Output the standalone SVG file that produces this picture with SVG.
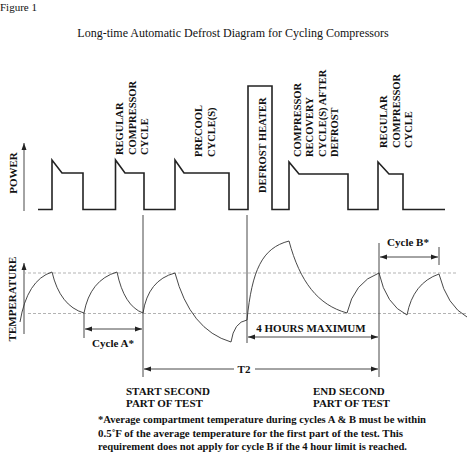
<svg xmlns="http://www.w3.org/2000/svg" width="467" height="453" viewBox="0 0 467 453">
<style>
text{font-family:"Liberation Serif","Times New Roman",serif;fill:#111}
.b{font-weight:bold;font-size:11px}
.r{font-weight:bold;font-size:10.5px}
.line{fill:none;stroke:#222;stroke-width:1.6}
.thin{fill:none;stroke:#333;stroke-width:0.9}
.dash{fill:none;stroke:#aaa;stroke-width:0.9;stroke-dasharray:3,2}
.ar{fill:none;stroke:#333;stroke-width:0.9;marker-end:url(#ah)}
</style>
<defs>
<marker id="ah" markerWidth="8" markerHeight="6" refX="7" refY="3" orient="auto" markerUnits="userSpaceOnUse">
<path d="M0,0.5 L7,3 L0,5.5 Z" fill="#222"/>
</marker>
</defs>
<rect width="467" height="453" fill="#fff"/>
<text x="0" y="11" font-size="11">Figure 1</text>
<text x="233" y="37" font-size="12" text-anchor="middle">Long-time Automatic Defrost Diagram for Cycling Compressors</text>

<g id="power-axis">
<path class="ar" d="M24,211 L24,143"/>
<text class="b" transform="translate(17,173) rotate(-90)" text-anchor="middle">POWER</text>
</g>
<g id="power-trace">
<path class="line" d="M38,209.5 H52 V160 L62,173 H83 V209.5 H115.5 V160 L125,173 H144 V209.5 H175 V160 L184,173 H229 V209.5 H248 V86 H272 V209.5 H289 V162 L299,174 H348 V209.5 H378 V162 L389,174 H403 V209.5 H445"/>
</g>
<g id="label-regular1">
<text class="r" transform="translate(123,155) rotate(-90)"><tspan x="0" y="0">REGULAR</tspan><tspan x="0" y="12.5">COMPRESSOR</tspan><tspan x="0" y="25">CYCLE</tspan></text>
</g>
<g id="label-precool">
<text class="r" transform="translate(202,157) rotate(-90)"><tspan x="0" y="0">PRECOOL</tspan><tspan x="0" y="12.5">CYCLE(S)</tspan></text>
</g>
<g id="label-defrost">
<text class="r" transform="translate(266,193) rotate(-90)">DEFROST HEATER</text>
</g>
<g id="label-recovery">
<text class="r" transform="translate(301,157) rotate(-90)"><tspan x="0" y="0">COMPRESSOR</tspan><tspan x="0" y="12.3">RECOVERY</tspan><tspan x="0" y="24.6">CYCLE(S) AFTER</tspan><tspan x="0" y="36.9">DEFROST</tspan></text>
</g>
<g id="label-regular2">
<text class="r" transform="translate(387,148) rotate(-90)"><tspan x="0" y="0">REGULAR</tspan><tspan x="0" y="12.5">COMPRESSOR</tspan><tspan x="0" y="25">CYCLE</tspan></text>
</g>

<g id="temp-axis">
<path class="ar" d="M24,334 L24,263"/>
<text class="b" transform="translate(16,299) rotate(-90)" text-anchor="middle" font-size="12">TEMPERATURE</text>
</g>
<g id="guides">
<path class="dash" d="M23,273 H457"/>
<path class="dash" d="M28,313.5 H467"/>
</g>
<g id="temp-trace">
<path class="thin" d="M20,322 Q27,280 52,272 Q60,306 84,313 Q90,280 117,272 Q124,306 143,313 Q148,280 175,273 Q190,330 231,342 Q234,322 247,320 C252,270 262,248 289,241 C300,282 318,305 347,313 Q354,282 379,273 Q386,305 407,315 Q413,283 439,274 Q447,306 467,317"/>
</g>

<g id="connectors">
<path class="thin" d="M143,215 V377"/>
<path class="thin" d="M247,215 V343"/>
<path class="thin" d="M379,243 V377"/>
<path class="thin" d="M84,313 V338"/>
<path class="thin" d="M439,247 V265"/>
<path class="ar" d="M113,329 H85"/>
<path class="ar" d="M113,329 H142"/>
<path class="ar" d="M409,257 H380"/>
<path class="ar" d="M409,257 H438"/>
<path class="ar" d="M313,337 H248"/>
<path class="ar" d="M313,337 H378"/>
<path class="ar" d="M234,369 H144"/>
<path class="ar" d="M255,369 H378"/>
</g>
<g id="dim-labels">
<text class="b" x="113" y="347" text-anchor="middle">Cycle A*</text>
<text class="b" x="408" y="246" text-anchor="middle">Cycle B*</text>
<text class="b" x="311" y="332" text-anchor="middle">4 HOURS MAXIMUM</text>
<text class="b" x="244" y="373" text-anchor="middle">T2</text>
</g>
<g id="bottom-labels">
<text class="b" x="126" y="395">START SECOND</text>
<text class="b" x="126" y="407">PART OF TEST</text>
<text class="b" x="313" y="395">END SECOND</text>
<text class="b" x="313" y="407">PART OF TEST</text>
<text class="b" x="98" y="423" textLength="328" lengthAdjust="spacingAndGlyphs">*Average compartment temperature during cycles A &amp; B must be within</text>
<text class="b" x="98" y="437" textLength="305" lengthAdjust="spacingAndGlyphs">0.5˚F of the average temperature for the first part of the test. This</text>
<text class="b" x="98" y="450" textLength="309" lengthAdjust="spacingAndGlyphs">requirement does not apply for cycle B if the 4 hour limit is reached.</text>
</g>
</svg>
